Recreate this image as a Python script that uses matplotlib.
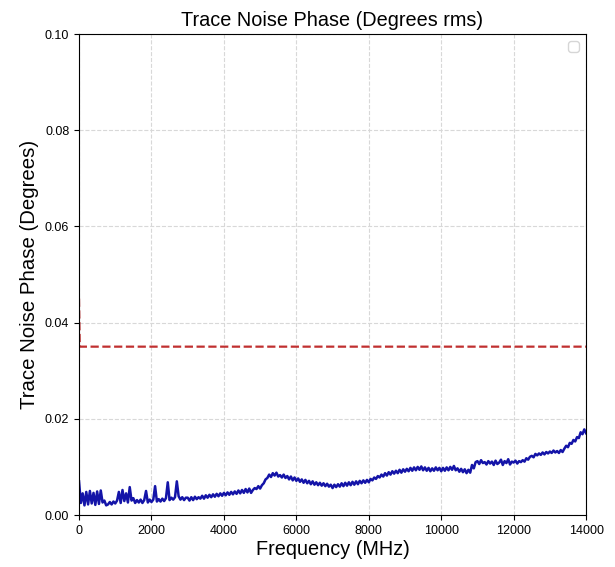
import numpy as np
import matplotlib
matplotlib.use("Agg")
import matplotlib.pyplot as plt

plt.rcParams['font.family'] = ['Liberation Sans', 'DejaVu Sans']

# Ruido de fase medido (grados rms), un punto cada 50 MHz de 0 a 14000 MHz
noise_phase = [
    0.0070, 0.0025, 0.0045, 0.0020, 0.0048, 0.0022, 0.0050, 0.0024, 0.0046, 0.0021,
    0.0049, 0.0023, 0.0051, 0.0026, 0.0030, 0.0020, 0.0022, 0.0027, 0.0022, 0.0028,
    0.0024, 0.0030, 0.0048, 0.0025, 0.0052, 0.0029, 0.0045, 0.0026, 0.0058, 0.0030,
    0.0035, 0.0025, 0.0031, 0.0026, 0.0032, 0.0025, 0.0031, 0.0050, 0.0026, 0.0032,
    0.0027, 0.0032, 0.0060, 0.0028, 0.0033, 0.0028, 0.0034, 0.0029, 0.0035, 0.0068,
    0.0031, 0.0036, 0.0032, 0.0037, 0.0070, 0.0039, 0.0032, 0.0037, 0.0031, 0.0036,
    0.0036, 0.0030, 0.0037, 0.0031, 0.0038, 0.0033, 0.0037, 0.0034, 0.0040, 0.0034,
    0.0041, 0.0036, 0.0042, 0.0037, 0.0043, 0.0038, 0.0044, 0.0039, 0.0045, 0.0040,
    0.0046, 0.0041, 0.0047, 0.0042, 0.0048, 0.0043, 0.0049, 0.0044, 0.0051, 0.0045,
    0.0052, 0.0046, 0.0054, 0.0047, 0.0055, 0.0046, 0.0052, 0.0056, 0.0054, 0.0060,
    0.0055, 0.0062, 0.0066, 0.0074, 0.0077, 0.0084, 0.0079, 0.0087, 0.0082, 0.0088,
    0.0080, 0.0083, 0.0078, 0.0084, 0.0077, 0.0081, 0.0074, 0.0080, 0.0072, 0.0078,
    0.0071, 0.0076, 0.0069, 0.0074, 0.0067, 0.0073, 0.0066, 0.0071, 0.0064, 0.0070,
    0.0063, 0.0068, 0.0062, 0.0067, 0.0061, 0.0066, 0.0060, 0.0065, 0.0059, 0.0063,
    0.0056, 0.0063, 0.0058, 0.0064, 0.0059, 0.0066, 0.0060, 0.0067, 0.0061, 0.0068,
    0.0062, 0.0069, 0.0063, 0.0070, 0.0064, 0.0071, 0.0066, 0.0072, 0.0067, 0.0073,
    0.0068, 0.0075, 0.0072, 0.0078, 0.0075, 0.0081, 0.0078, 0.0084, 0.0080, 0.0087,
    0.0082, 0.0089, 0.0084, 0.0091, 0.0086, 0.0092, 0.0087, 0.0094, 0.0088, 0.0095,
    0.0090, 0.0096, 0.0091, 0.0098, 0.0092, 0.0099, 0.0093, 0.0100, 0.0094, 0.0101,
    0.0093, 0.0099, 0.0092, 0.0098, 0.0091, 0.0097, 0.0092, 0.0099, 0.0093, 0.0098,
    0.0091, 0.0098, 0.0092, 0.0099, 0.0093, 0.0100, 0.0094, 0.0102, 0.0093, 0.0097,
    0.0090, 0.0096, 0.0089, 0.0095, 0.0087, 0.0094, 0.0088, 0.0104, 0.0097, 0.0110,
    0.0112, 0.0106, 0.0114, 0.0108, 0.0110, 0.0105, 0.0112, 0.0107, 0.0111, 0.0104,
    0.0113, 0.0106, 0.0109, 0.0115, 0.0104, 0.0112, 0.0108, 0.0116, 0.0105, 0.0111,
    0.0109, 0.0113, 0.0107, 0.0112, 0.0110, 0.0114, 0.0111, 0.0118, 0.0115, 0.0121,
    0.0123, 0.0120, 0.0127, 0.0124, 0.0128, 0.0125, 0.0130, 0.0126, 0.0131, 0.0128,
    0.0132, 0.0129, 0.0134, 0.0130, 0.0133, 0.0129, 0.0135, 0.0131, 0.0138, 0.0144,
    0.0141, 0.0150, 0.0148, 0.0156, 0.0153, 0.0162, 0.0160, 0.0172, 0.0168, 0.0178,
    0.0170,
]
freq_mhz = np.linspace(0, 14000, len(noise_phase))

# Limite de especificacion (linea roja discontinua)
limit_freq = [0, 20, 14000]
limit_value = [0.045, 0.035, 0.035]

fig = plt.figure(figsize=(6.15, 5.67), dpi=100)
ax = fig.add_axes([0.1285, 0.0917, 0.8245, 0.8483])

ax.plot(freq_mhz, noise_phase, color='#1414a8', linewidth=1.8)
ax.plot(limit_freq, limit_value, color='#c03030', linestyle='--', linewidth=1.6)

ax.set_xlim(0, 14000)
ax.set_ylim(0, 0.10)
ax.set_xticks(np.arange(0, 14001, 2000))
ax.set_yticks(np.arange(0, 0.101, 0.02))
ax.yaxis.set_major_formatter(plt.FormatStrFormatter('%.2f'))
ax.tick_params(labelsize=9)

ax.grid(True, linestyle='--', color='#d8d8d8', linewidth=0.8)
ax.set_title("Trace Noise Phase (Degrees rms)", fontsize=14.3, pad=6)
ax.set_xlabel("Frequency (MHz)", fontsize=14.3, labelpad=2)
ax.set_ylabel("Trace Noise Phase (Degrees)", fontsize=14.7)
ax.legend(handles=[], loc='upper right')

fig.savefig("out.png", dpi=100)
